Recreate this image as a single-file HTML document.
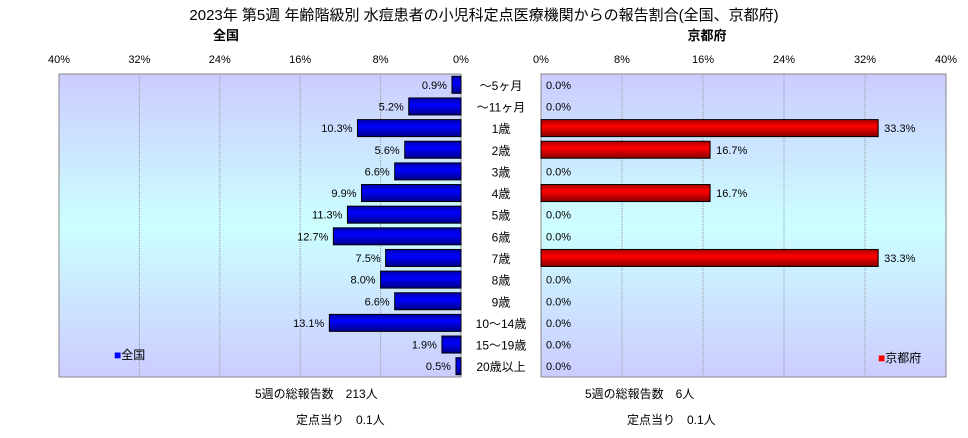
<!DOCTYPE html>
<html><head><meta charset="utf-8"><style>
body{margin:0;background:#fff;font-family:"Liberation Sans","Noto Sans CJK JP",sans-serif;}
svg text{font-family:"Liberation Sans","Noto Sans CJK JP",sans-serif;}
</style></head><body>
<svg id="c" width="968" height="433" xmlns="http://www.w3.org/2000/svg">
<defs>
<linearGradient id="bg" x1="0" y1="0" x2="0" y2="1">
<stop offset="0" stop-color="#ccccff"/><stop offset="0.5" stop-color="#ccffff"/><stop offset="1" stop-color="#ccccff"/>
</linearGradient>
<linearGradient id="gb" x1="0" y1="0" x2="0" y2="1">
<stop offset="0" stop-color="#0000aa"/><stop offset="0.4" stop-color="#0000ff"/><stop offset="1" stop-color="#000088"/>
</linearGradient>
<linearGradient id="gr" x1="0" y1="0" x2="0" y2="1">
<stop offset="0" stop-color="#aa0000"/><stop offset="0.4" stop-color="#ff0000"/><stop offset="1" stop-color="#880000"/>
</linearGradient>
</defs>
<text x="484" y="20" font-size="15" text-anchor="middle">2023年 第5週 年齢階級別 水痘患者の小児科定点医療機関からの報告割合(全国、京都府)</text>
<text x="226" y="40" font-size="13" text-anchor="middle" font-weight="bold">全国</text>
<text x="707" y="40" font-size="13" text-anchor="middle" font-weight="bold">京都府</text>
<rect x="59" y="74" width="402" height="303" fill="url(#bg)" stroke="#888"/>
<rect x="541" y="74" width="405" height="303" fill="url(#bg)" stroke="#888"/>
<g id="g"></g>
<text x="114" y="359" font-size="12"><tspan fill="#0000ff">■</tspan>全国</text>
<text x="878" y="362" font-size="12"><tspan fill="#ff0000">■</tspan>京都府</text>
<text x="255" y="398" font-size="12">5週の総報告数　213人</text>
<text x="296" y="424" font-size="12">定点当り　0.1人</text>
<text x="585" y="398" font-size="12">5週の総報告数　6人</text>
<text x="627" y="424" font-size="12">定点当り　0.1人</text>
</svg>
<script>
const categories=["～5ヶ月","～11ヶ月","1歳","2歳","3歳","4歳","5歳","6歳","7歳","8歳","9歳","10～14歳","15～19歳","20歳以上"];
const nationalValues=[0.9,5.2,10.3,5.6,6.6,9.9,11.3,12.7,7.5,8.0,6.6,13.1,1.9,0.5];
const kyotoValues=[0,0,33.3,16.7,0,16.7,0,0,33.3,0,0,0,0,0];
const tickValues=[0,8,16,24,32,40];
const NS="http://www.w3.org/2000/svg";
const g=document.getElementById('g');
const top0=74,bot0=377,rowH=(bot0-top0)/categories.length;
const xL=v=>461-v/40*402;
const xR=v=>541+v/40*405;
const yC=i=>top0+rowH*(i+0.5);
function mk(t,a){const e=document.createElementNS(NS,t);for(const k in a)e.setAttribute(k,a[k]);g.appendChild(e);return e;}
tickValues.forEach(t=>{
 if(t>0&&t<40){
  const l1=mk('line',{x1:xL(t),x2:xL(t),y1:top0,y2:bot0,stroke:'#999','stroke-dasharray':'1,1'});
  
  
  const l2=mk('line',{x1:xR(t),x2:xR(t),y1:top0,y2:bot0,stroke:'#999','stroke-dasharray':'1,1'});
  
  
 }
 const a=mk('text',{x:xL(t),y:63,'font-size':11,'text-anchor':'middle'});a.textContent=t+'%';
 
 
 const b=mk('text',{x:xR(t),y:63,'font-size':11,'text-anchor':'middle'});b.textContent=t+'%';
 
 
});
categories.forEach((c,i)=>{
 const y=yC(i),h=17;
 const lab=mk('text',{x:501,y:y+5,'font-size':12,'text-anchor':'middle'});lab.textContent=c;
 
 
 const v=nationalValues[i];
 const r=mk('rect',{x:xL(v),y:y-h/2,width:461-xL(v),height:h,fill:'url(#gb)',stroke:'#000'});
 
 
 const t=mk('text',{x:xL(v)-5,y:y+4,'font-size':11,'text-anchor':'end'});t.textContent=v.toFixed(1)+'%';
 
 
 const k=kyotoValues[i];
 if(k>0){
  const r2=mk('rect',{x:541,y:y-h/2,width:xR(k)-541,height:h,fill:'url(#gr)',stroke:'#000'});
  
  
 }
 const t2=mk('text',{x:k>0?xR(k)+6:546,y:y+4,'font-size':11});t2.textContent=k.toFixed(1)+'%';
 
 
});
</script>
</body></html>
